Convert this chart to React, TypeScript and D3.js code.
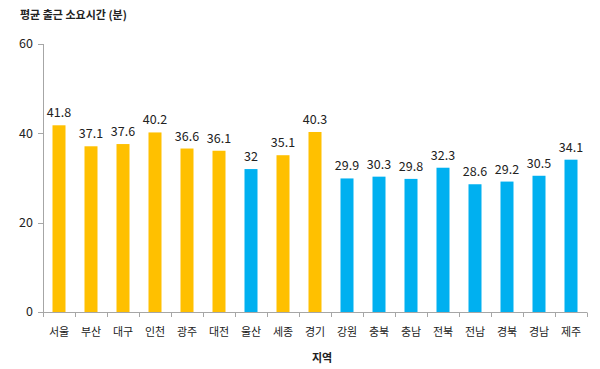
import React from 'react';
import * as d3 from 'd3';

const regions = ['서울', '부산', '대구', '인천', '광주', '대전', '울산', '세종', '경기', '강원', '충북', '충남', '전북', '전남', '경북', '경남', '제주'];
const minutes = [41.8, 37.1, 37.6, 40.2, 36.6, 36.1, 32, 35.1, 40.3, 29.9, 30.3, 29.8, 32.3, 28.6, 29.2, 30.5, 34.1];
// 광역시·특별시 그룹 (orange) vs 도 (blue)
const isMetro = [true, true, true, true, true, true, false, true, true, false, false, false, false, false, false, false, false];
const yTicks = [0, 20, 40, 60];

const W = 600;
const H = 369;
const font = "'Noto Sans CJK KR', 'Noto Sans', sans-serif";

const App = () => {
  const x = d3.scaleBand().domain(regions).range([43, 587]).paddingInner(0).paddingOuter(0);
  const y = d3.scaleLinear().domain([0, 60]).range([312, 44]);
  const barW = 13;
  const axisColor = '#a6a6a6';
  const bounds = d3.range(regions.length + 1).map((i) => 43 + i * x.step());

  return (
    <svg width={W} height={H} style={{ position: 'absolute', left: 0, top: 0, background: '#fff' }} fontFamily={font}>
      <text x={20} y={19} fontSize={11} fontWeight="bold" fill="#222">평균 출근 소요시간 (분)</text>

      {/* y axis */}
      <line x1={43.5} x2={43.5} y1={y(60)} y2={y(0)} stroke={axisColor} />
      {yTicks.map((t) => (
        <g key={t}>
          <line x1={38} x2={43.5} y1={Math.round(y(t)) + 0.5} y2={Math.round(y(t)) + 0.5} stroke={axisColor} />
          <text x={33} y={y(t)} dy="0.35em" textAnchor="end" fontSize={12.5} fill="#222">{t}</text>
        </g>
      ))}

      {/* bars */}
      {regions.map((r, i) => {
        const cx = (x(r) as number) + x.bandwidth() / 2;
        return (
          <g key={r}>
            <rect x={cx - barW / 2} y={y(minutes[i])} width={barW} height={y(0) - y(minutes[i])}
              fill={isMetro[i] ? '#ffc000' : '#00b0f0'} />
            <text x={cx} y={y(minutes[i]) - 8} textAnchor="middle" fontSize={12.5} fill="#222">{minutes[i]}</text>
            <text x={cx} y={336} textAnchor="middle" fontSize={11} fill="#222">{r}</text>
          </g>
        );
      })}

      {/* x axis */}
      <line x1={43} x2={587} y1={312.5} y2={312.5} stroke={axisColor} />
      {bounds.map((b, i) => (
        <line key={i} x1={Math.round(b) + 0.5} x2={Math.round(b) + 0.5} y1={312.5} y2={317} stroke={axisColor} />
      ))}

      <text x={322} y={362} textAnchor="middle" fontSize={11} fontWeight="bold" fill="#222">지역</text>
    </svg>
  );
};

export default App;
